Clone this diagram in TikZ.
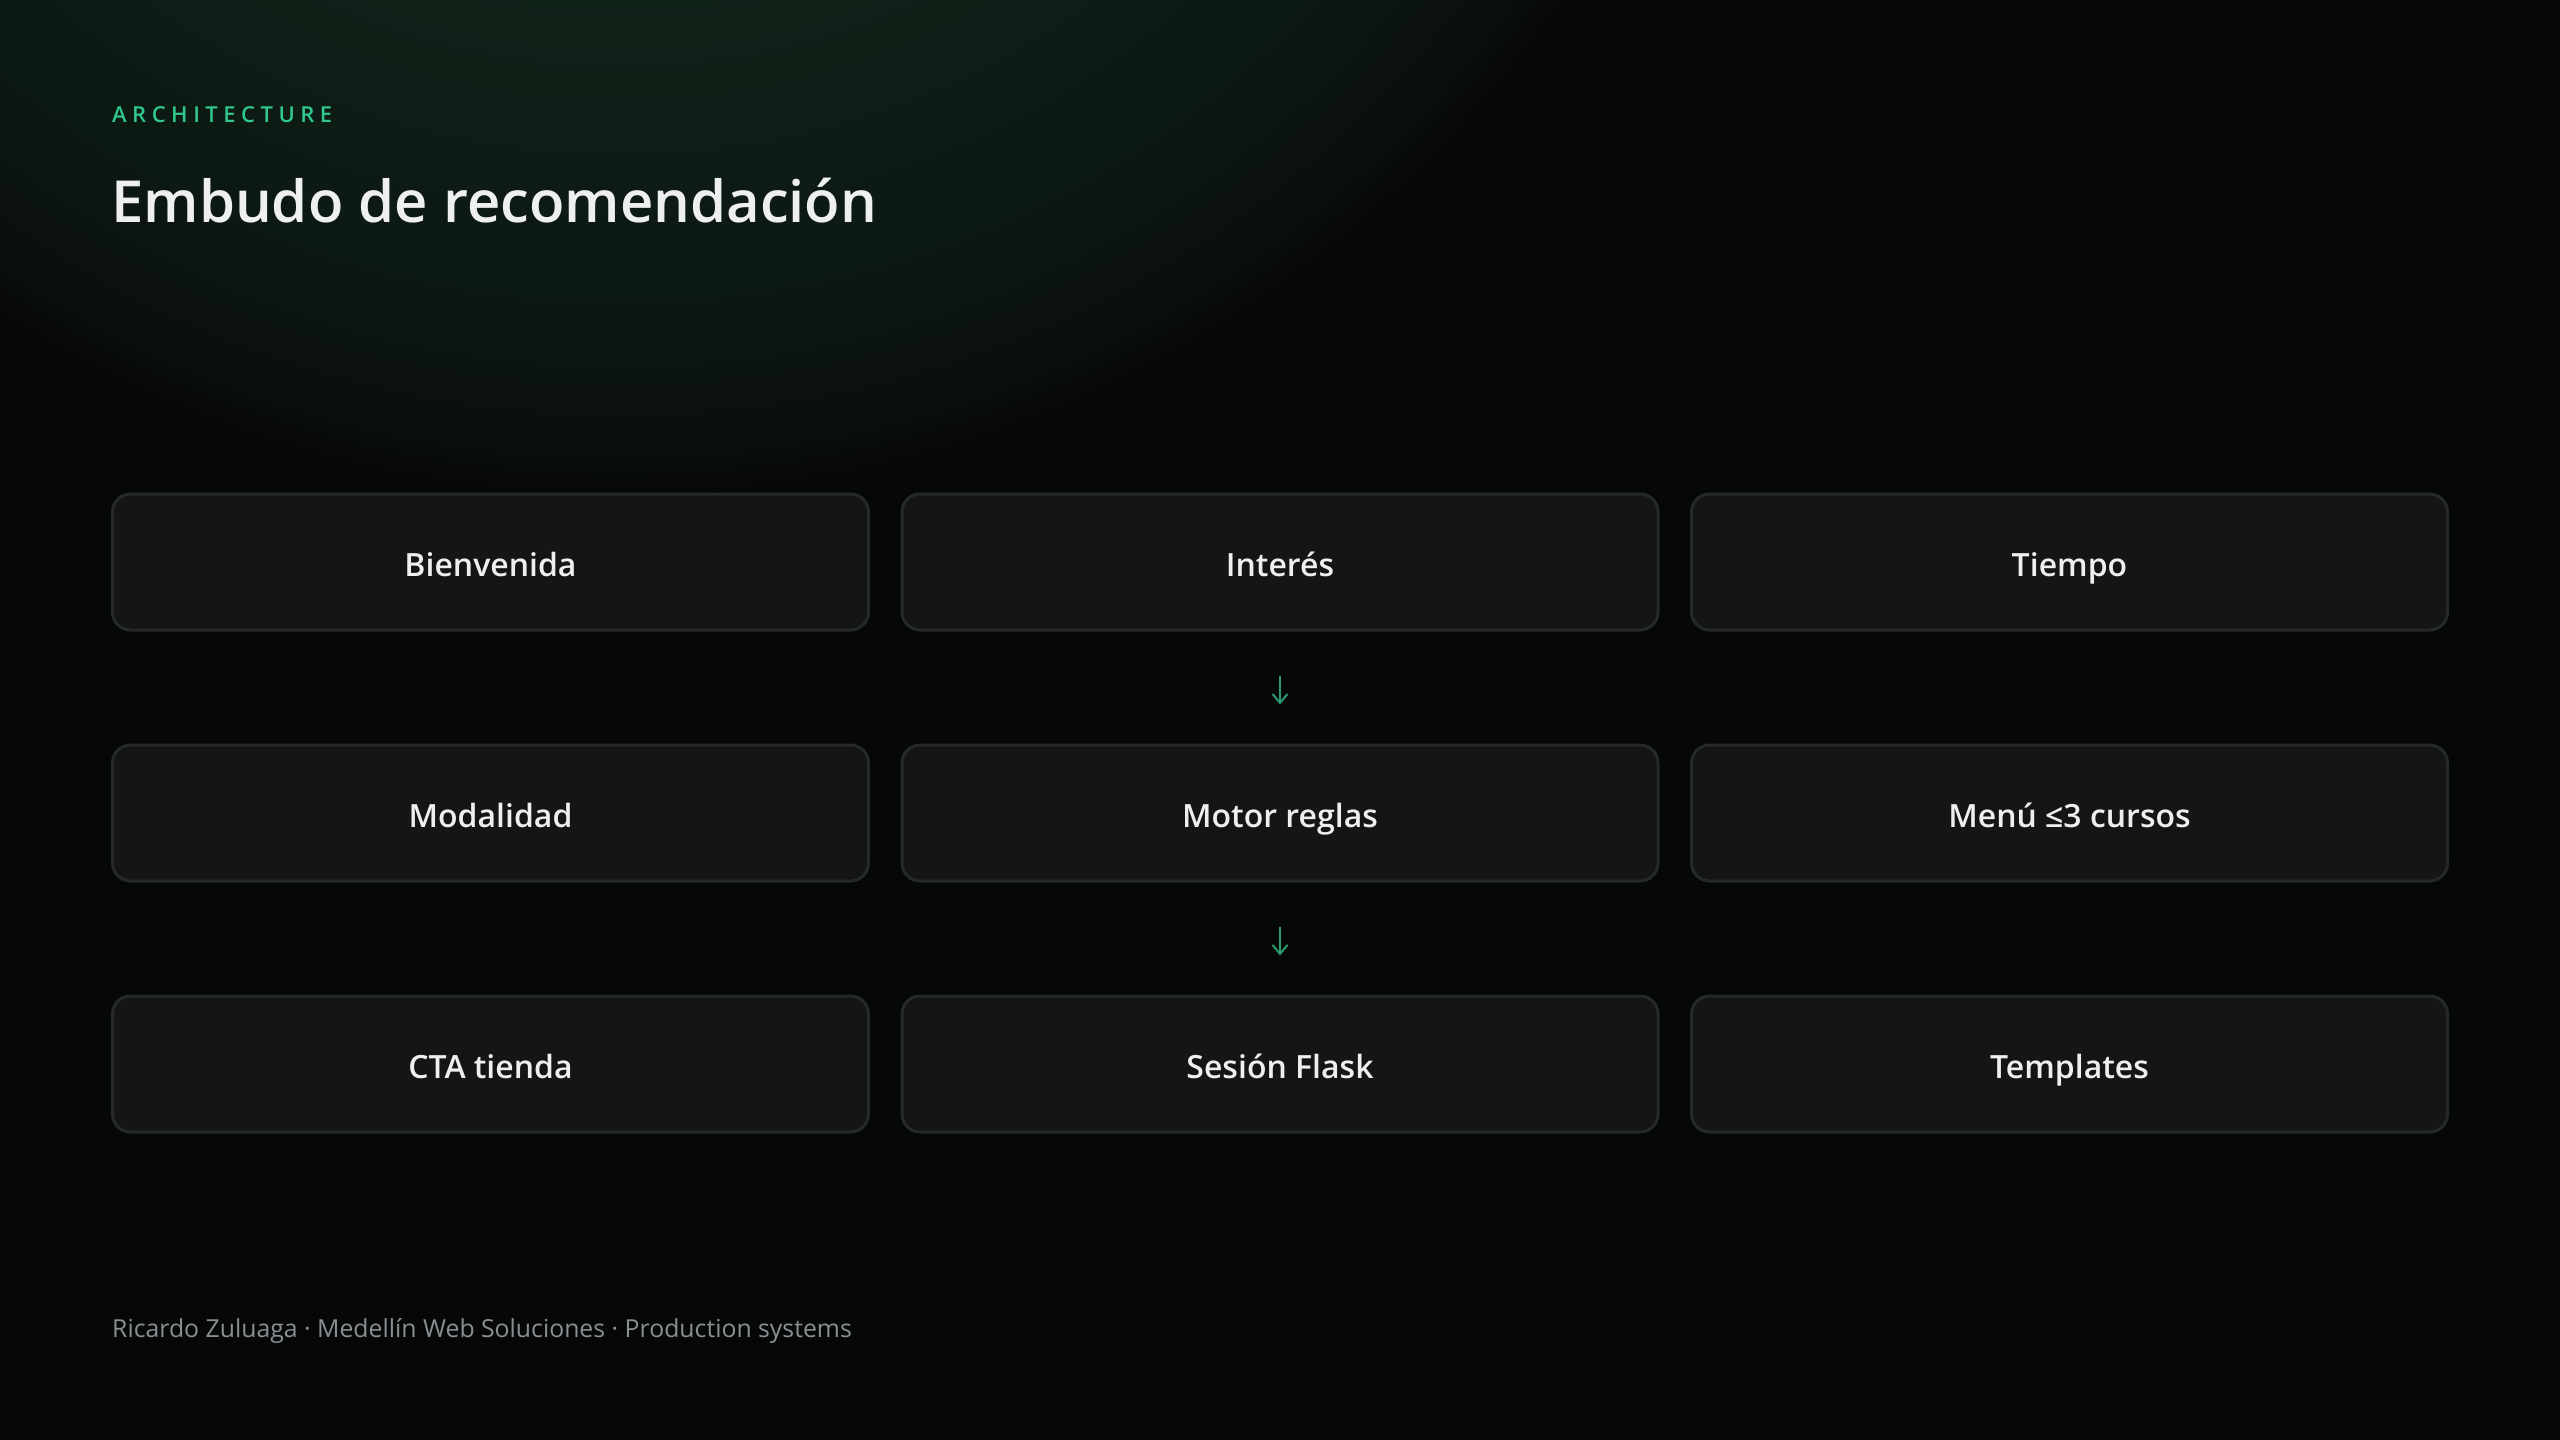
\documentclass[tikz,border=0pt]{standalone}
\usepackage{fontspec}
\setmainfont{Open Sans}[BoldFont={Open Sans Semibold}]
\usetikzlibrary{arrows.meta, positioning}

\definecolor{bgbase}{HTML}{060707}
\definecolor{glowin}{HTML}{143222}
\definecolor{glowmid}{HTML}{0F2218}
\definecolor{glowlow}{HTML}{0C1712}
\definecolor{glowedge}{HTML}{0A0E0D}
\definecolor{cardfill}{HTML}{151518}
\definecolor{cardline}{HTML}{24292A}
\definecolor{kicker}{HTML}{30C88B}
\definecolor{arrowgreen}{HTML}{2B9A6E}
\definecolor{titletext}{HTML}{EEF0F0}
\definecolor{footertext}{HTML}{8B8F94}

\pgfdeclareradialshading{glow}{\pgfpoint{0bp}{0bp}}{%
    color(0bp)=(glowin); color(14bp)=(glowmid); color(21bp)=(glowlow);
    color(24bp)=(glowedge); color(25bp)=(bgbase); color(50bp)=(bgbase)}

\tikzset{
    card/.style={draw=cardline, line width=3pt, fill=cardfill, rounded corners=18pt,
        minimum width=756pt, minimum height=136pt, inner sep=0pt,
        text=titletext, font=\fontsize{32}{38}\selectfont\bfseries,
        text height=28pt, text depth=0pt},
    flow/.style={draw=arrowgreen, line width=2pt,
        -{Straight Barb[length=9pt, width=15pt, line width=2pt]},
        shorten <=44pt, shorten >=39pt},
}

\begin{document}
\begin{tikzpicture}[x=1pt, y=-1pt]
    % background and glow
    \fill[bgbase] (0,0) rectangle (2560,1440);
    \begin{scope}
        \clip (0,0) rectangle (2560,1440);
        \shade[shading=glow] (620,-650) circle (1150);
    \end{scope}
    \useasboundingbox (0,0) rectangle (2560,1440);

    % heading
    \node[anchor=base west, inner sep=0pt, text=kicker,
        font=\fontsize{22}{26}\selectfont\bfseries\addfontfeature{LetterSpace=25}]
        (kick) at (112,122) {ARCHITECTURE};
    \node[anchor=base west, inner sep=0pt, text=titletext,
        font=\fontsize{58}{70}\selectfont\bfseries]
        (title) at (111,222) {Embudo de recomendación};

    % cards
    \node[card] (bien) at (490.5,562) {Bienvenida};
    \node[card] (inte) at (1280,562) {Interés};
    \node[card] (tiem) at (2069.5,562) {Tiempo};

    \node[card] (moda) at (490.5,813) {Modalidad};
    \node[card] (moto) at (1280,813) {Motor reglas};
    \node[card] (menu) at (2069.5,813) {Menú ≤3 cursos};

    \node[card] (ctat) at (490.5,1064) {CTA tienda};
    \node[card] (sesi) at (1280,1064) {Sesión Flask};
    \node[card] (temp) at (2069.5,1064) {Templates};

    \draw[flow] (inte.south) -- (moto.north);
    \draw[flow] (moto.south) -- (sesi.north);

    % footer
    \node[anchor=base west, inner sep=0pt, text=footertext,
        font=\fontsize{24.8}{30}\selectfont]
        (foot) at (112,1337) {Ricardo Zuluaga · Medellín Web Soluciones · Production systems};
\end{tikzpicture}
\end{document}
